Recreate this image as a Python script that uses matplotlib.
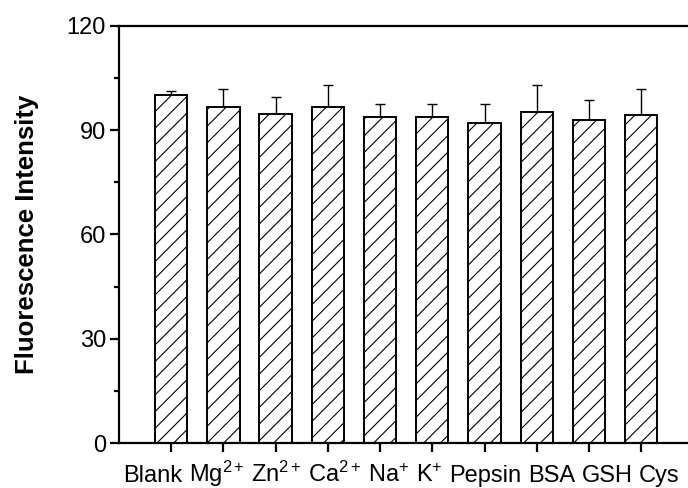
import numpy as np
import matplotlib
matplotlib.use("Agg")
from matplotlib import pyplot
from matplotlib.ticker import MultipleLocator

pyplot.rcParams['font.family'] = ['Liberation Sans', 'DejaVu Sans']
pyplot.rcParams['mathtext.fontset'] = 'custom'
pyplot.rcParams['mathtext.rm'] = 'Liberation Sans'
pyplot.rcParams['mathtext.it'] = 'Liberation Sans'
pyplot.rcParams['hatch.linewidth'] = 0.8

# --------------------------------------------------------------------------

labels = ["Blank", "Mg$^{2+}$", "Zn$^{2+}$", "Ca$^{2+}$", "Na$^{+}$", "K$^{+}$",
          "Pepsin", "BSA", "GSH", "Cys"]
intensity = [100.0, 96.7, 94.6, 96.8, 93.9, 93.9, 92.0, 95.2, 92.9, 94.4]
error = [1.3, 5.0, 4.9, 6.3, 3.5, 3.6, 5.4, 7.9, 5.7, 7.3]

# --------------------------------------------------------------------------

W, H = 688, 488
fig = pyplot.figure(figsize=(W/100, H/100), dpi=100)
ax = fig.add_axes([0.173, 0.092, 0.831, 0.855])

x = np.arange(1, len(labels)+1)
ax.bar(x, intensity, width=0.62, color="white", edgecolor="black",
       linewidth=1.4, hatch="//", zorder=2)
ax.errorbar(x, intensity, yerr=[np.zeros(len(error)), error], fmt="none",
            ecolor="black", elinewidth=1.0, capsize=3.3, capthick=1.0, zorder=1)

ax.set_xlim(0, 10.95)
ax.set_ylim(0, 120)
ax.set_xticks(x)
ax.set_xticklabels([])
ax.yaxis.set_major_locator(MultipleLocator(30))
ax.yaxis.set_minor_locator(MultipleLocator(15))

for side in ("top", "left", "bottom"):
    ax.spines[side].set_linewidth(1.6)
ax.spines["right"].set_visible(False)

ax.tick_params(axis="both", which="major", direction="out", length=6.5, width=1.6,
               labelsize=17, pad=3)
ax.tick_params(axis="y", which="minor", direction="out", length=3.5, width=1.6)

ax.set_ylabel("Fluorescence Intensity", fontsize=18.5, fontweight="bold", labelpad=20)

# category names: one per text, laid end to end on a line under the axis
# (as in the original, they don't sit exactly under their ticks)
def layout_names(fs, x0=123, base=6, gap=0.28):
    texts = []
    renderer = fig.canvas.get_renderer()
    px = x0
    for name in labels:
        t = fig.text(px/W, base/H, name, fontsize=fs, va="baseline", ha="left")
        px += t.get_window_extent(renderer).width + gap*fs*100/72
        texts.append(t)
    return texts, px - gap*fs*100/72

fs = 15
texts, end = layout_names(fs)
span = end - 123
for t in texts:
    t.remove()
fs = fs*(684-123)/span
texts, end = layout_names(fs)

fig.savefig("out.png", dpi=100)
